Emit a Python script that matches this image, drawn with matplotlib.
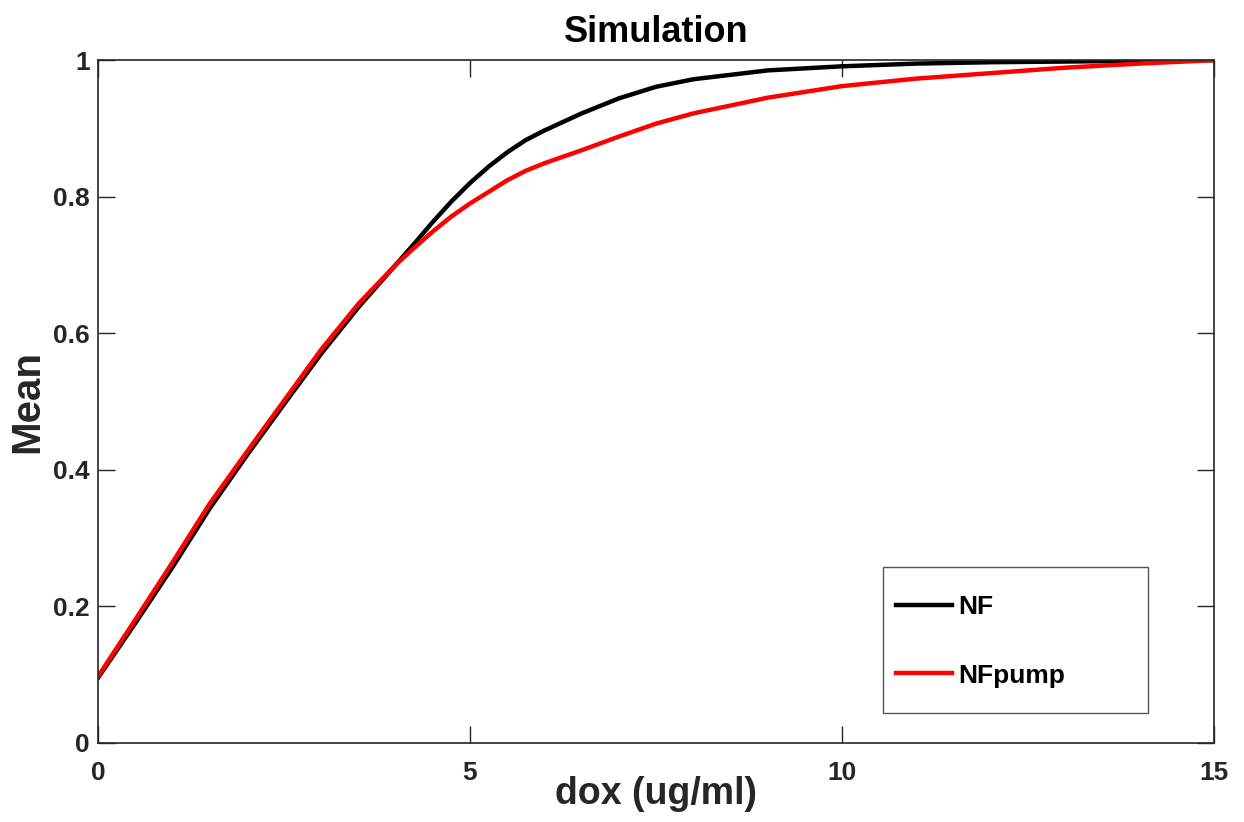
import numpy as np
import matplotlib
matplotlib.use("Agg")
import matplotlib.pyplot as plt
from matplotlib.ticker import FuncFormatter
from matplotlib.patches import Rectangle

plt.rcParams['font.family'] = ['Liberation Sans', 'DejaVu Sans']
plt.rcParams['font.weight'] = 'bold'

# dox concentration (ug/ml)
dox = [0, 0.5, 1, 1.5, 2, 2.5, 3, 3.5, 4, 4.25, 4.5, 4.75, 5, 5.25, 5.5, 5.75,
       6, 6.5, 7, 7.5, 8, 9, 10, 11, 12, 13, 14, 15]
# mean response, NF circuit
mean_nf = [0.095, 0.175, 0.257, 0.343, 0.421, 0.496, 0.570, 0.638, 0.700,
           0.731, 0.763, 0.793, 0.820, 0.844, 0.865, 0.883, 0.897, 0.922,
           0.944, 0.961, 0.972, 0.985, 0.991, 0.995, 0.997, 0.998, 0.999, 1.0]
# mean response, NF with pump
mean_nfpump = [0.097, 0.180, 0.264, 0.350, 0.426, 0.501, 0.576, 0.643, 0.700,
               0.725, 0.749, 0.771, 0.790, 0.807, 0.824, 0.838, 0.849, 0.868,
               0.888, 0.907, 0.922, 0.945, 0.962, 0.973, 0.981, 0.989, 0.995, 1.0]

fig = plt.figure(figsize=(12.44, 8.22), dpi=100)
ax = fig.add_axes([0.0788, 0.0965, 0.8971, 0.8303])

ax.plot(dox, mean_nf, color='black', lw=3.2, label='NF')
ax.plot(dox, mean_nfpump, color='red', lw=3.2, label='NFpump')

ax.set_xlim(0, 15)
ax.set_ylim(0, 1)
ax.set_xticks([0, 5, 10, 15])
ax.set_yticks([0, 0.2, 0.4, 0.6, 0.8, 1.0])
ax.yaxis.set_major_formatter(FuncFormatter(lambda v, p: f"{v:g}"))

ax.tick_params(direction='in', length=12, width=1, top=True, right=True,
               labelsize=19, colors='#262626')
ax.tick_params(axis='x', pad=13)
ax.tick_params(axis='y', pad=6)
for sp in ax.spines.values():
    sp.set_linewidth(1.2)
    sp.set_color('#262626')

ax.set_title('Simulation', fontsize=26, fontweight='bold', pad=13)
ax.set_xlabel('dox (ug/ml)', fontsize=27, fontweight='bold', labelpad=-6,
              color='#262626')
ax.set_ylabel('Mean', fontsize=29, fontweight='bold', labelpad=5, color='#262626')

# legend box (MATLAB style, wider than its entries)
ax.add_patch(Rectangle((0.703, 0.0435), 0.238, 0.214, transform=ax.transAxes,
                       facecolor='white', edgecolor='#555555', lw=1.0, zorder=4))
leg = ax.legend(loc='upper left', bbox_to_anchor=(0.7148, 0.216), fontsize=19,
                frameon=False, handlelength=2.12, handletextpad=0.23,
                labelspacing=1.68, borderpad=0, borderaxespad=0)
leg.set_zorder(5)
for t in leg.get_texts():
    t.set_fontweight('bold')

fig.savefig('out.png', dpi=100)
